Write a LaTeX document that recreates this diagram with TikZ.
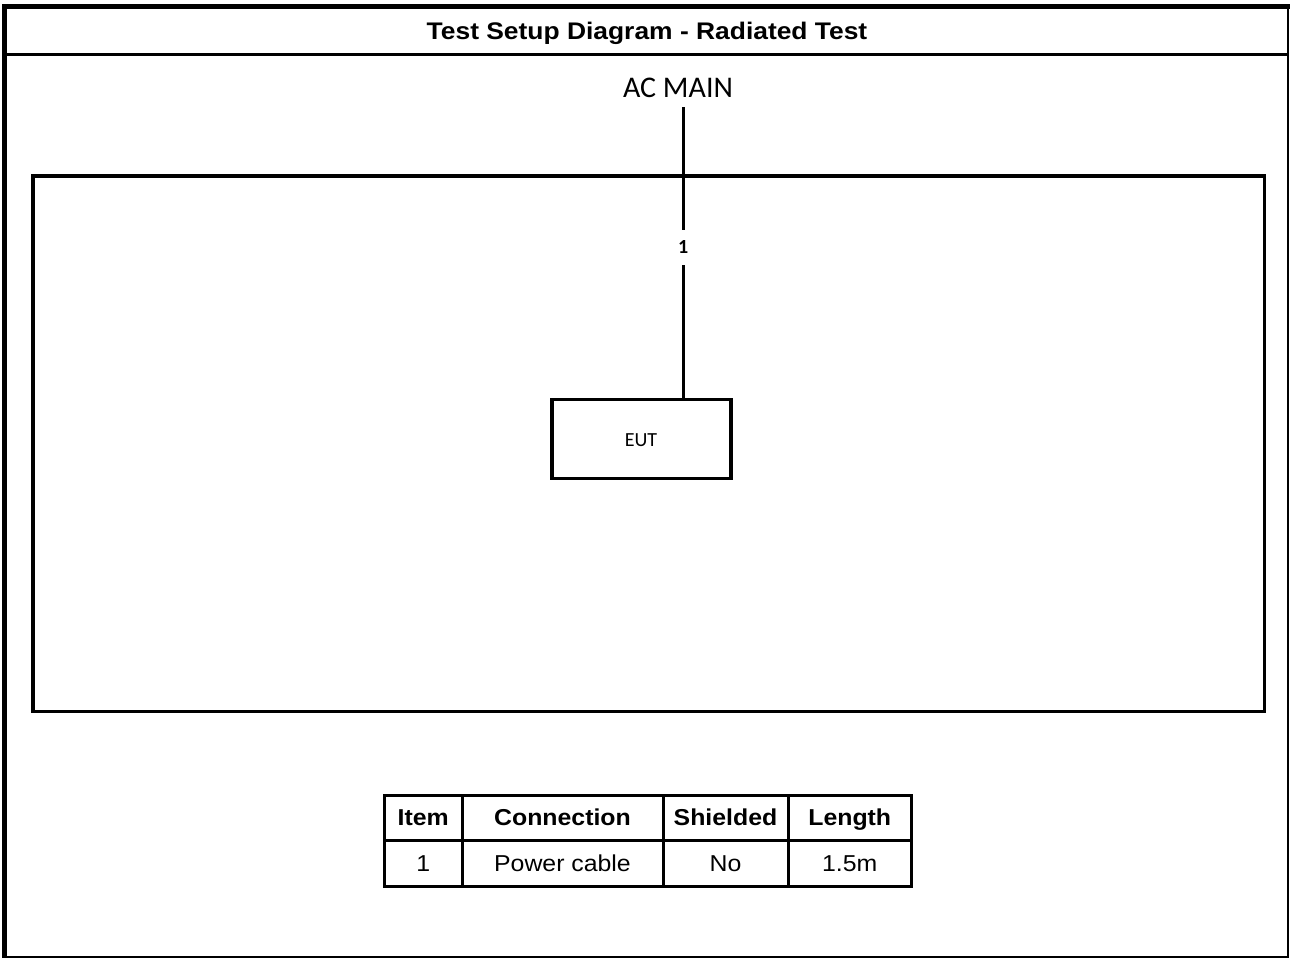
\documentclass[tikz,border=0pt]{standalone}
\usepackage{fontspec}
\setmainfont{Liberation Sans}
\newfontfamily\arialw[FakeStretch=1.08]{Liberation Sans}
\newfontfamily\arialt[FakeStretch=1.1]{Liberation Sans}
\newfontfamily\calib{Carlito}
\tikzset{
  frameline/.style={line width=#1, draw=black},
  box/.style={draw=black, line width=3.5pt, inner sep=0pt, outer sep=0pt},
  cell/.style={draw=black, line width=3pt, inner sep=0pt, outer sep=0pt, minimum height=45.75pt, anchor=north west, text height=15pt, text depth=0pt},
  hdr/.style={font=\arialw\bfseries\fontsize{23}{27}\selectfont},
  txt/.style={font=\arialw\fontsize{23}{27}\selectfont},
  cable/.style={line width=3pt, draw=black}
}
\begin{document}
\begin{tikzpicture}[x=1pt,y=-1pt]
\useasboundingbox (0,0) rectangle (1290,958);
% outer frame
\draw[frameline=5pt] (4.5,958) -- (4.5,6.5) -- (1290,6.5);
\draw[frameline=2pt] (1288,6.5) -- (1288,957) -- (4.5,957);
\draw[frameline=2.5pt] (4.5,54.5) -- (1288,54.5);
\node[font=\arialt\bfseries\fontsize{24}{28}\selectfont] (title) at (647,33) {Test Setup Diagram - Radiated Test};
% inner rectangle
\node[box, minimum width=1231.7pt, minimum height=535.5pt, anchor=north west] (room) at (33,176) {};
% AC MAIN
\node[font=\calib\fontsize{30}{34}\selectfont] (ac) at (678,88) {AC MAIN};
\coordinate (acb) at (683.3,107);
% EUT
\node[box, minimum width=179pt, minimum height=79.4pt, anchor=north west] (eut) at (552,399.3) {};
\node[font=\calib\fontsize{20}{24}\selectfont] (euttxt) at (641,440) {EUT};
% cable label
\node[font=\calib\bfseries\fontsize{20}{22}\selectfont, inner sep=0pt, minimum height=35pt] (lbl) at (683.3,247.5) {1};
\draw[cable] (acb) -- (lbl.north);
\draw[cable] (lbl.south) -- (eut.north -| lbl.south);
% table
\node[cell, minimum width=77.5pt, hdr] (h1) at (384.5,795) {Item};
\node[cell, minimum width=201pt, hdr] (h2) at (462,795) {Connection};
\node[cell, minimum width=125pt, hdr] (h3) at (663,795) {Shielded};
\node[cell, minimum width=123.5pt, hdr] (h4) at (788,795) {Length};
\node[cell, minimum width=77.5pt, txt] (r1) at (384.5,840.75) {1};
\node[cell, minimum width=201pt, txt] (r2) at (462,840.75) {Power cable};
\node[cell, minimum width=125pt, txt] (r3) at (663,840.75) {No};
\node[cell, minimum width=123.5pt, txt] (r4) at (788,840.75) {1.5m};
\end{tikzpicture}
\end{document}
